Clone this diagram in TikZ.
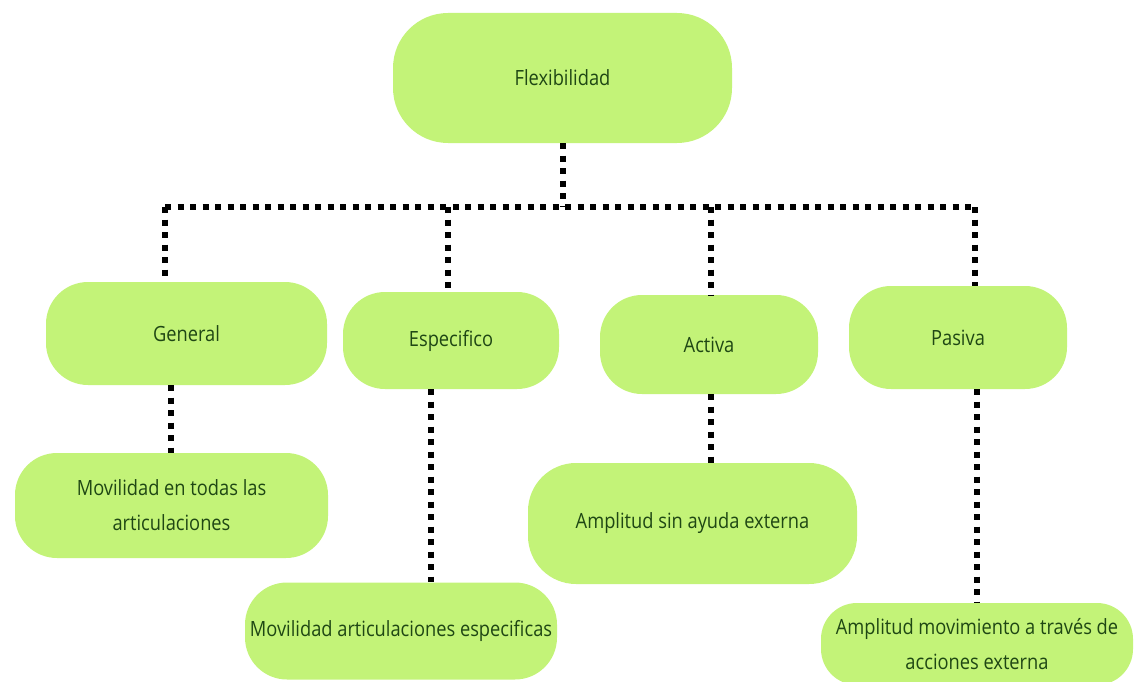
\documentclass[tikz,border=0pt]{standalone}
\usepackage{fontspec}
\setmainfont{Open Sans}[FakeStretch=0.87]
\definecolor{boxfill}{HTML}{C3F378}
\definecolor{boxtext}{HTML}{1F4714}
\begin{document}
\begin{tikzpicture}[x=1pt,y=-1pt,
  pill/.style={draw=none,fill=boxfill,rounded corners=42pt,text=boxtext,
    font=\fontsize{21}{35}\selectfont,align=center,inner sep=0pt},
  link/.style={line width=6pt,dash pattern=on 6pt off 6.5pt,line cap=butt}]
\useasboundingbox (0,0) rectangle (1134,682);
\clip (0,0) rectangle (1134,682);

% concept boxes
\node[pill,minimum width=339pt,minimum height=130pt,rounded corners=55pt] (flex) at (562.5,78) {Flexibilidad};
\node[pill,minimum width=281pt,minimum height=103pt] (general) at (186.5,333.5) {General};
\node[pill,minimum width=216pt,minimum height=97pt] (espec) at (451,340.5) {Especifico};
\node[pill,minimum width=218pt,minimum height=99pt] (activa) at (709,344.5) {Activa};
\node[pill,minimum width=218pt,minimum height=103pt] (pasiva) at (958,337.5) {Pasiva};
\node[pill,minimum width=313pt,minimum height=105pt] (mov1) at (171.5,505.5) {Movilidad en todas las\\articulaciones};
\node[pill,minimum width=312pt,minimum height=97pt] (mov2) at (401,631) {Movilidad articulaciones especificas};
\node[pill,minimum width=329pt,minimum height=121pt,rounded corners=48pt] (amp1) at (692.5,523.5) {Amplitud sin ayuda externa};
\node[pill,minimum width=312pt,minimum height=82pt,rounded corners=36pt] (amp2) at (977,644) {Amplitud movimiento a través de\\acciones externa};

% horizontal bus under the root
\coordinate (bus) at (562.5,207);
\coordinate (bL) at (165,207);
\coordinate (bE) at (448,207);
\coordinate (bA) at (711,207);
\coordinate (bR) at (975,207);

\draw[link] (flex.south) -- (bus);
\draw[link] (bL) -- (bR);
\draw[link] (bL) -- (bL |- general.north);
\draw[link] (bE) -- (bE |- espec.north);
\draw[link] (bA) -- (bA |- activa.north);
\draw[link] (bR) -- (bR |- pasiva.north);

% second level
\draw[link] ([xshift=-16pt]general.south) -- ([xshift=-16pt]general.south |- mov1.north);
\draw[link] ([xshift=-20pt]espec.south) -- ([xshift=-20pt]espec.south |- mov2.north);
\draw[link] ([xshift=2pt]activa.south) -- ([xshift=2pt]activa.south |- amp1.north);
\draw[link] ([xshift=19pt]pasiva.south) -- ([xshift=19pt]pasiva.south |- amp2.north);
\end{tikzpicture}
\end{document}
